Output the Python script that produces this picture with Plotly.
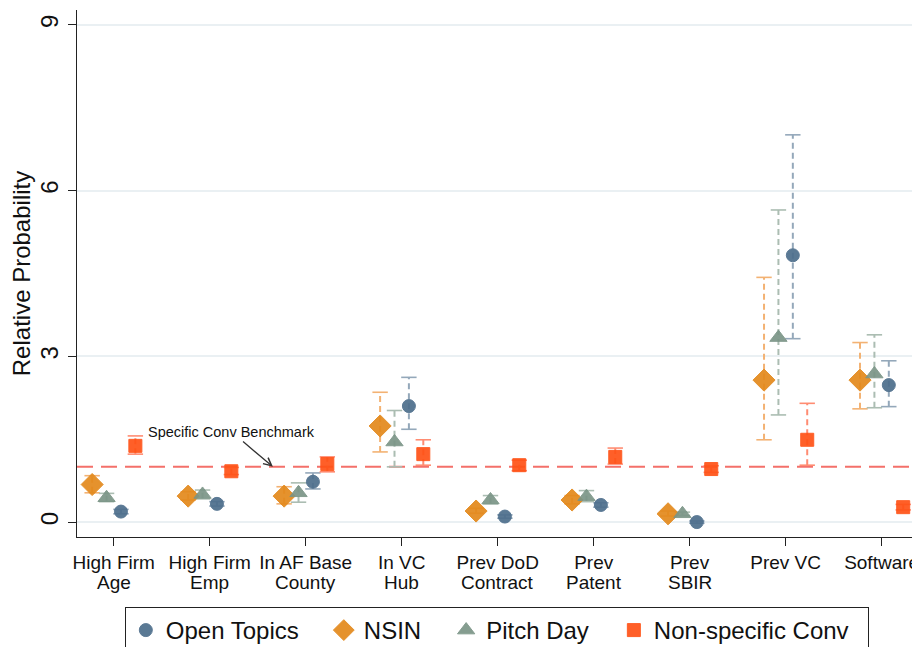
import plotly.graph_objects as go

cat_line1 = ["High Firm", "High Firm", "In AF Base", "In VC", "Prev DoD", "Prev", "Prev", "Prev VC", "Software"]
cat_line2 = ["Age", "Emp", "County", "Hub", "Contract", "Patent", "SBIR", "", ""]

open_est = [0.19, 0.33, 0.73, 2.10, 0.10, 0.31, 0.00, 4.83, 2.48]
open_lo = [0.15, 0.29, 0.60, 1.68, 0.07, 0.27, -0.02, 3.32, 2.09]
open_hi = [0.23, 0.37, 0.89, 2.62, 0.13, 0.35, 0.02, 7.01, 2.92]

nsin_est = [0.68, 0.47, 0.47, 1.74, 0.20, 0.40, 0.15, 2.57, 2.57]
nsin_lo = [0.53, 0.40, 0.33, 1.27, 0.16, 0.33, 0.11, 1.49, 2.05]
nsin_hi = [0.84, 0.55, 0.64, 2.35, 0.25, 0.48, 0.20, 4.43, 3.25]

pitch_est = [0.44, 0.50, 0.53, 1.45, 0.40, 0.46, 0.15, 3.34, 2.68]
pitch_lo = [0.37, 0.42, 0.36, 1.00, 0.33, 0.37, 0.12, 1.94, 2.07]
pitch_hi = [0.52, 0.58, 0.71, 2.02, 0.48, 0.57, 0.18, 5.65, 3.39]

nonspec_est = [1.38, 0.92, 1.05, 1.23, 1.03, 1.18, 0.96, 1.49, 0.27]
nonspec_lo = [1.23, 0.86, 0.91, 1.03, 0.93, 1.05, 0.90, 1.03, 0.22]
nonspec_hi = [1.56, 0.99, 1.18, 1.49, 1.12, 1.34, 1.02, 2.15, 0.32]

benchmark = 1.0
benchmark_label = "Specific Conv Benchmark"

PAD = "\u00a0\u00a0\u00a0"
series = [
    # name, est, lo, hi, offset, symbol, size, color, errcolor
    ("Open Topics", open_est, open_lo, open_hi, 0.075, "circle", 13, "#4d6e8c", "#94a8ba"),
    ("NSIN", nsin_est, nsin_lo, nsin_hi, -0.225, "diamond", 17, "#e3891c", "#f3b273"),
    ("Pitch Day", pitch_est, pitch_lo, pitch_hi, -0.075, "triangle-up", 15, "#7b9587", "#abbdb2"),
    ("Non-specific Conv", nonspec_est, nonspec_lo, nonspec_hi, 0.225, "square", 13, "#ff5216", "#ff8c72"),
]

FONT = "Liberation Sans, Arial, Helvetica, sans-serif"
fig = go.Figure()

xpos = list(range(1, len(cat_line1) + 1))

# error bars (dashed) with caps
for name, est, lo, hi, off, sym, size, col, ecol in series:
    xs, ys, cx, cy = [], [], [], []
    for i, x in enumerate(xpos):
        xv = x + off
        xs += [xv, xv, None]
        ys += [lo[i], hi[i], None]
        cx += [xv, xv]
        cy += [lo[i], hi[i]]
    fig.add_trace(go.Scatter(x=xs, y=ys, mode="lines", showlegend=False, hoverinfo="skip",
                             line=dict(color=ecol, width=2, dash="6px,4px")))
    fig.add_trace(go.Scatter(x=cx, y=cy, mode="markers", showlegend=False, hoverinfo="skip",
                             marker=dict(symbol="line-ew", size=11,
                                         line=dict(color=ecol, width=1.6))))

# markers
for k, (name, est, lo, hi, off, sym, size, col, ecol) in enumerate(series):
    label = name + (PAD if k < len(series) - 1 else "\u00a0\u00a0")
    fig.add_trace(go.Scatter(x=[x + off for x in xpos], y=est, mode="markers", name=label,
                             marker=dict(symbol=sym, size=size, color=col, opacity=0.92,
                                         line=dict(color=col, width=1))))

# benchmark line
fig.add_shape(type="line", xref="paper", x0=0, x1=1, y0=benchmark, y1=benchmark,
              line=dict(color="#f4706a", width=2, dash="16px,8px"), layer="below")

fig.add_annotation(x=2.658, y=benchmark, ax=2.23, ay=1.63, xref="x", yref="y",
                   axref="x", ayref="y", text=benchmark_label, showarrow=True,
                   arrowhead=5, arrowsize=1.2, arrowwidth=1.3, arrowcolor="#333333",
                   font=dict(family=FONT, size=14.5, color="#111111"))

# second line of the category labels (tighter line spacing than <br>)
for x, t in zip(xpos, cat_line2):
    if t:
        fig.add_annotation(x=x, y=0, xref="x", yref="paper", text=t, showarrow=False,
                           yanchor="middle", xanchor="center", yshift=-45, borderpad=0,
                           font=dict(family=FONT, size=19, color="#111111"))

fig.update_layout(
    width=912, height=639,
    margin=dict(l=69, r=0, t=2, b=110, autoexpand=False),
    plot_bgcolor="white", paper_bgcolor="white",
    font=dict(family=FONT, color="#111111"),
    legend=dict(orientation="h", x=0.498, xanchor="center", y=-0.1328, yanchor="top",
                bordercolor="#222222", borderwidth=1, font=dict(size=24, family=FONT),
                itemwidth=30, tracegroupgap=0),
)
fig.update_xaxes(range=[0.617, 9.4], tickvals=xpos, ticktext=cat_line1, automargin=False,
                 showline=True, linecolor="#222222", linewidth=1.2,
                 ticks="outside", ticklen=8, tickcolor="#222222",
                 showgrid=False, zeroline=False,
                 tickfont=dict(size=19, family=FONT, color="#111111"))
fig.update_yaxes(range=[-0.27, 9.27], tickvals=[0, 3, 6, 9], tickangle=-90, automargin=False,
                 showline=True, linecolor="#222222", linewidth=1.2,
                 ticks="outside", ticklen=8, tickcolor="#222222",
                 showgrid=True, gridcolor="#eaf0f3", gridwidth=1.5, zeroline=False,
                 tickfont=dict(size=24, family=FONT, color="#111111"),
                 title=dict(text="Relative Probability", font=dict(size=24, family=FONT), standoff=4))

fig.write_html("out.html")
